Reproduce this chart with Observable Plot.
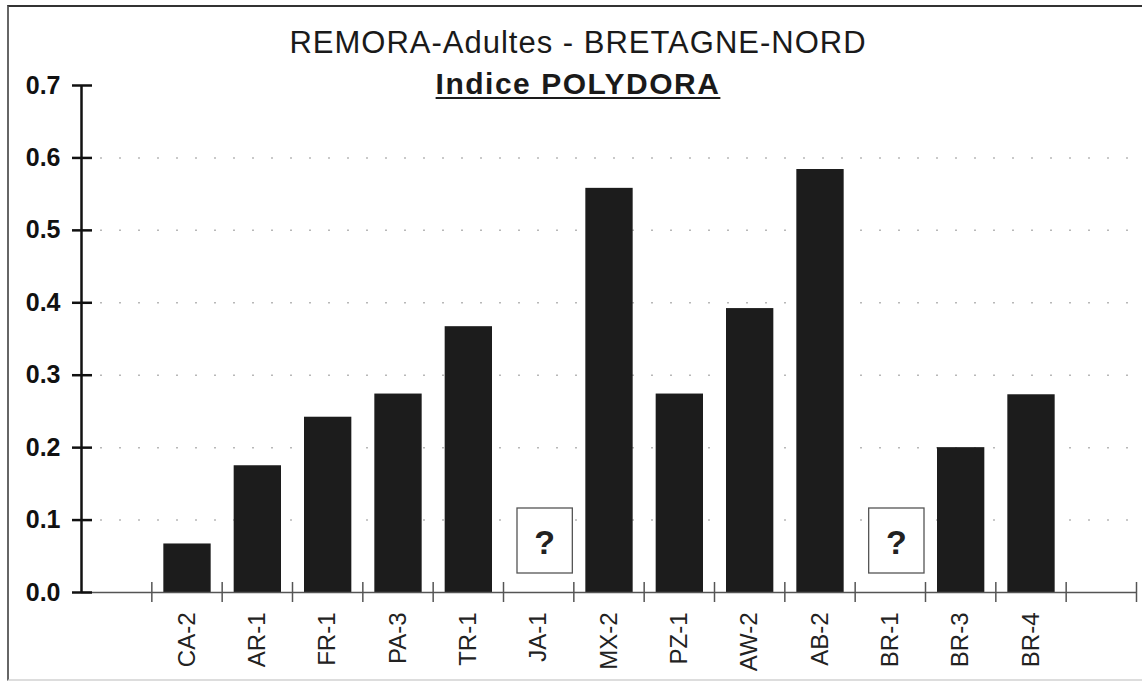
<!DOCTYPE html>
<html>
<head>
<meta charset="utf-8">
<script src="https://cdn.jsdelivr.net/npm/d3@7"></script>
<script src="https://cdn.jsdelivr.net/npm/@observablehq/plot@0.6"></script>
<style>
  html, body { margin: 0; padding: 0; background: #fff; }
  #wrap { position: relative; width: 1142px; height: 686px; overflow: hidden; font-family: "Liberation Sans", Arial, sans-serif; }
  #frame { position: absolute; left: 7px; top: 5px; width: 1140px; height: 676px; border-top: 2px solid #333; border-left: 2px solid #666; border-bottom: 2px solid #ddd; box-sizing: border-box; }
  #chart { position: absolute; left: 0; top: 0; }
  .title { position: absolute; left: 0; width: 1156px; text-align: center; color: #1a1a1a; white-space: nowrap; }
  #t1 { top: 25px; font-size: 31px; letter-spacing: 1px; line-height: 1.15; }
  #t2 { top: 67px; font-size: 30px; letter-spacing: 1.5px; line-height: 1.15; font-weight: bold; text-decoration: underline; text-decoration-thickness: 2px; text-underline-offset: 3px; }
</style>
</head>
<body>
<div id="wrap">
  <div id="frame"></div>
  <div id="chart"></div>
  <div class="title" id="t1">REMORA-Adultes - BRETAGNE-NORD</div>
  <div class="title" id="t2">Indice POLYDORA</div>
</div>
<script>
// Sites (categories) in display order
const sites = ["CA-2", "AR-1", "FR-1", "PA-3", "TR-1", "JA-1", "MX-2", "PZ-1", "AW-2", "AB-2", "BR-1", "BR-3", "BR-4"];
// Indice POLYDORA values (null = unknown, shown as "?")
const indice = [0.067, 0.175, 0.242, 0.274, 0.367, null, 0.558, 0.274, 0.392, 0.584, null, 0.200, 0.273];
// Y tick values
const yTicks = [0.0, 0.1, 0.2, 0.3, 0.4, 0.5, 0.6, 0.7];

// Category slots: one empty slot before and after the sites
const nSlots = sites.length + 2;
const rows = sites.map((s, i) => ({site: s, value: indice[i], slot: i + 1}));
const known = rows.filter(d => d.value != null);
const unknown = rows.filter(d => d.value == null);
const boundaries = d3.range(1, nSlots + 1);
const centers = rows.map(d => d.slot + 0.5);

const chart = Plot.plot({
  width: 1142,
  height: 686,
  marginLeft: 81,
  marginRight: 6,
  marginTop: 85,
  marginBottom: 94,
  x: {domain: [0, nSlots], axis: null, label: null},
  y: {domain: [0, 0.7], axis: null, label: null},
  style: {fontFamily: "'Liberation Sans', Arial, sans-serif", background: "transparent", color: "#111"},
  marks: [
    // dotted gridlines
    Plot.ruleY(yTicks.filter(v => v > 0 && v < 0.7), {y: d => d, stroke: "#b8b8b8", strokeWidth: 1.5, strokeDasharray: "2,17"}),
    // bars
    Plot.rectY(known, {x1: "slot", x2: d => d.slot + 1, y: "value", insetLeft: 12, insetRight: 11, fill: "#1c1c1c"}),
    // boxes for unknown values
    Plot.rect(unknown, {x1: "slot", x2: d => d.slot + 1, y1: 0, y2: 0, insetLeft: 14, insetRight: 1, insetTop: -84, insetBottom: 19, fill: "white", stroke: "#555", strokeWidth: 1.3}),
    Plot.text(unknown, {x: d => d.slot + 0.5, y: 0, text: () => "?", dx: 6, dy: -49, fontSize: 34, fontWeight: "bold", fill: "#222"}),
    // x axis line and boundary ticks
    Plot.ruleY([0], {stroke: "#555", strokeWidth: 1.5}),
    Plot.ruleX(boundaries, {x: d => d, y1: 0, y2: 0, insetTop: -10, insetBottom: -10, stroke: "#555", strokeWidth: 1.5}),
    // x labels
    Plot.axisX({ticks: centers, tickFormat: v => sites[Math.round(v - 1.5)], tickSize: 0, tickPadding: 20, tickRotate: -90, fontSize: 24, fill: "#222", label: null}),
    // y axis line and ticks
    Plot.ruleX([0], {x: d => d, y1: 0, y2: 0.7, stroke: "#111", strokeWidth: 2.5}),
    Plot.ruleY(yTicks, {y: d => d, x1: 0, x2: 0, insetLeft: -9, insetRight: -11, stroke: "#111", strokeWidth: 2.5}),
    Plot.axisY({ticks: yTicks, tickFormat: d3.format(".1f"), tickSize: 0, tickPadding: 21, fontSize: 25, fontWeight: "bold", fill: "#111", label: null})
  ]
});
document.getElementById("chart").appendChild(chart);
</script>
</body>
</html>
